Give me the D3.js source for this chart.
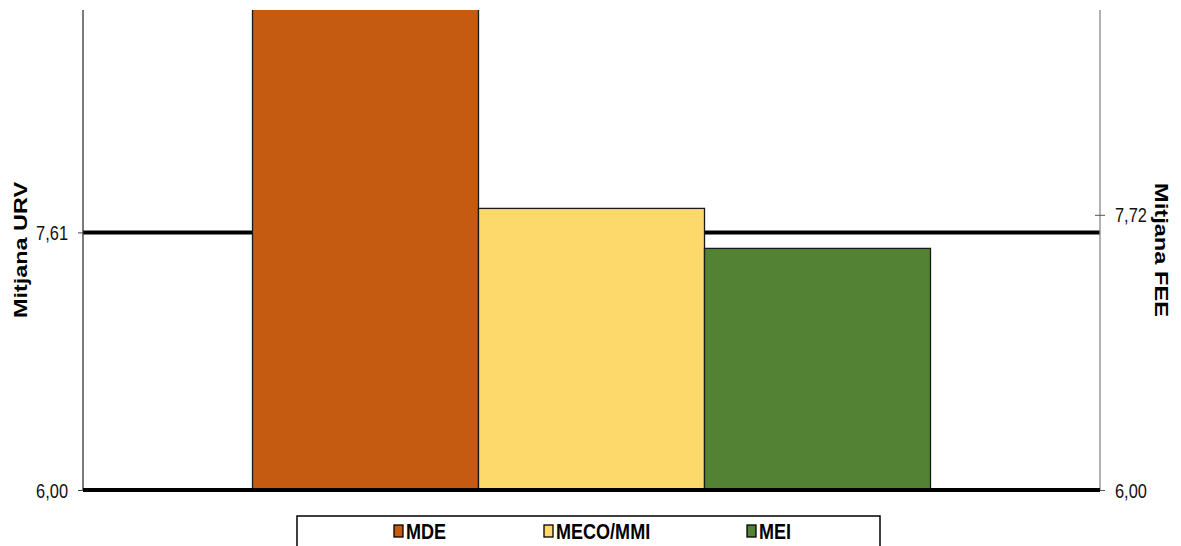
<!DOCTYPE html>
<html>
<head>
<meta charset="utf-8">
<script src="https://cdn.jsdelivr.net/npm/d3@7"></script>
<style>
  html, body { margin: 0; padding: 0; background: #fff; }
  svg { display: block; }
  text { font-family: "Liberation Sans", Arial, sans-serif; }
</style>
</head>
<body>
<svg id="chart" width="1181" height="546"></svg>
<script>
// ---- data ----
const categories = ["MDE", "MECO/MMI", "MEI"];
const values = [9.3, 7.76, 7.51];          // MDE exceeds the axis maximum (clipped)
const urvMean = 7.61;                       // left reference (Mitjana URV)
const feeMean = 7.72;                       // right reference (Mitjana FEE)
const leftTicks = [6.00, 7.61];
const leftTickLabels = ["6,00", "7,61"];
const rightTicks = [6.00, 7.72];
const rightTickLabels = ["6,00", "7,72"];
const axisDomain = [6, 9];
const leftTitle = "Mitjana URV";
const rightTitle = "Mitjana FEE";

// ---- styles ----
const colors = ["#C55A11", "#FDD86A", "#548235"];
const narrow = 0.82;

const svg = d3.select("#chart");
const plot = { left: 83, right: 1100, top: 10, bottom: 490 };

const yL = d3.scaleLinear().domain(axisDomain).range([plot.bottom, plot.top]);
const yR = d3.scaleLinear().domain(axisDomain).range([plot.bottom, plot.top]);

const xGroup = d3.scaleBand().domain(["g"]).range([plot.left, plot.right]).paddingOuter(0.25).paddingInner(0);
const xBar = d3.scaleBand().domain(categories).range([xGroup("g"), xGroup("g") + xGroup.bandwidth()]).padding(0);

// clip
svg.append("defs").append("clipPath").attr("id", "clip")
  .append("rect").attr("x", plot.left).attr("y", plot.top)
  .attr("width", plot.right - plot.left).attr("height", plot.bottom - plot.top);

// reference line URV (behind bars)
svg.append("line")
  .attr("x1", plot.left).attr("x2", plot.right)
  .attr("y1", yL(urvMean)).attr("y2", yL(urvMean))
  .attr("stroke", "#000").attr("stroke-width", 4);

// bars
svg.append("g").attr("clip-path", "url(#clip)")
  .selectAll("rect").data(categories).join("rect")
  .attr("x", d => xBar(d))
  .attr("width", xBar.bandwidth())
  .attr("y", (d, i) => yL(values[i]))
  .attr("height", (d, i) => plot.bottom - yL(values[i]))
  .attr("fill", (d, i) => colors[i])
  .attr("stroke", "#1a1a1a").attr("stroke-width", 1.3);

function condenseTicks(g) {
  g.selectAll(".tick text").each(function () {
    const t = d3.select(this);
    const x = +t.attr("x");
    t.attr("x", 0).attr("dy", "0.35em")
      .attr("transform", `translate(${x},0) scale(${narrow},1)`)
      .attr("font-size", 20).attr("fill", "#111").attr("font-family", null);
  });
}

// left axis
const leftAxis = d3.axisLeft(yL).tickValues(leftTicks)
  .tickFormat((d, i) => leftTickLabels[i]).tickSize(5).tickPadding(10);
const gL = svg.append("g").attr("transform", `translate(${plot.left},0)`).call(leftAxis);
gL.select(".domain").attr("stroke", "#333").attr("stroke-width", 1.3).attr("d", `M0,${plot.top}V${plot.bottom}`);
gL.selectAll(".tick line").attr("stroke", "#444");
condenseTicks(gL);

// right axis
const rightAxis = d3.axisRight(yR).tickValues(rightTicks)
  .tickFormat((d, i) => rightTickLabels[i]).tickSize(5).tickPadding(10);
const gR = svg.append("g").attr("transform", `translate(${plot.right},0)`).call(rightAxis);
gR.select(".domain").attr("stroke", "#888").attr("stroke-width", 1.3).attr("d", `M0,${plot.top}V${plot.bottom}`);
gR.selectAll(".tick line").attr("stroke", "#555")
  .attr("x1", d => d === feeMean ? -5 : 0);
condenseTicks(gR);

// bottom baseline
svg.append("line")
  .attr("x1", plot.left).attr("x2", plot.right)
  .attr("y1", yL(axisDomain[0])).attr("y2", yL(axisDomain[0]))
  .attr("stroke", "#000").attr("stroke-width", 4);

// axis titles
svg.append("text")
  .attr("transform", `translate(27,250) rotate(-90)`)
  .attr("text-anchor", "middle").attr("font-size", 18.5).attr("font-weight", "bold")
  .attr("textLength", 136).attr("lengthAdjust", "spacingAndGlyphs")
  .text(leftTitle);
svg.append("text")
  .attr("transform", `translate(1155,250) rotate(90)`)
  .attr("text-anchor", "middle").attr("font-size", 18.5).attr("font-weight", "bold")
  .attr("textLength", 134).attr("lengthAdjust", "spacingAndGlyphs")
  .text(rightTitle);

// legend
const legend = svg.append("g");
legend.append("rect").attr("x", 297).attr("y", 516).attr("width", 583).attr("height", 40)
  .attr("fill", "#fff").attr("stroke", "#000").attr("stroke-width", 1.5);
const legendX = [394, 544, 747];
categories.forEach((c, i) => {
  legend.append("rect").attr("x", legendX[i]).attr("y", 525).attr("width", 9).attr("height", 12)
    .attr("fill", colors[i]).attr("stroke", "#000").attr("stroke-width", 1.3);
  legend.append("text").attr("font-weight", "bold").attr("font-size", 22)
    .attr("transform", `translate(${legendX[i] + 12},539) scale(${narrow},1)`)
    .text(c);
});
</script>
</body>
</html>
